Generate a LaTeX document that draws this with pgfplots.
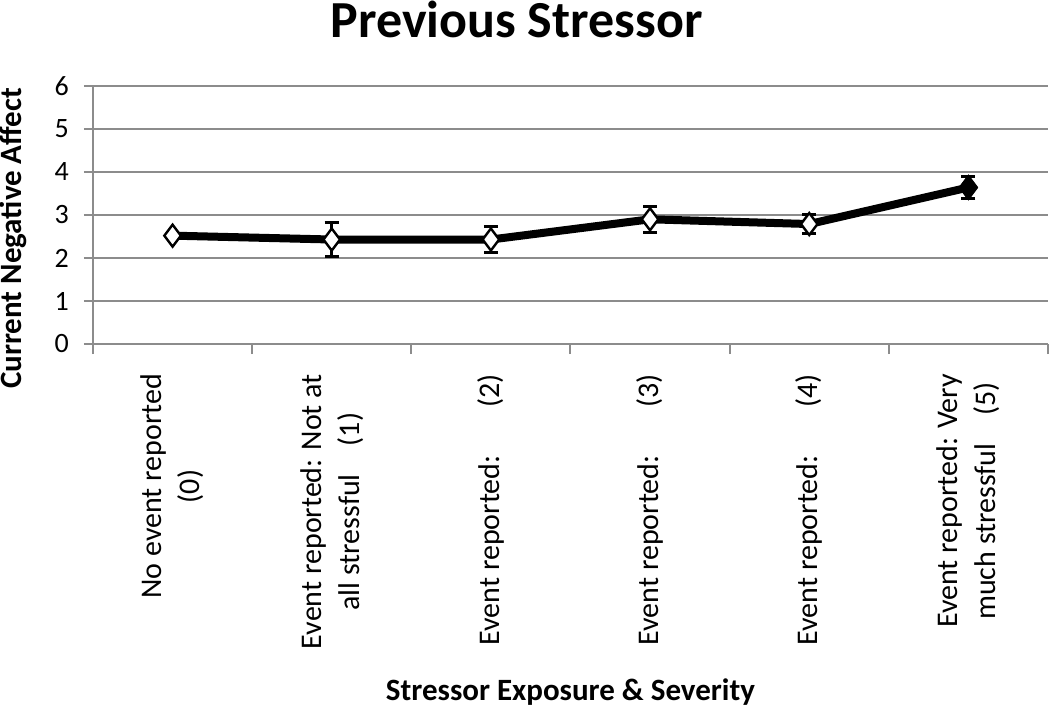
\documentclass[border=0pt]{standalone}
\usepackage{fontspec}
\setmainfont{Carlito}
\usepackage{pgfplots}
\pgfplotsset{compat=1.18}
\usepackage{pgfplotstable}
\pgfplotstableread{
x y err
0 2.52 0
1 2.43 0.39
2 2.43 0.31
3 2.90 0.30
4 2.79 0.22
5 3.64 0.26
}\stressdata
\definecolor{gridgray}{HTML}{8C8C8C}
\begin{document}
\begin{tikzpicture}
\useasboundingbox (-46.5pt,-182pt) rectangle (478.5pt,172pt);
\begin{axis}[
  scale only axis,
  width=477.5pt, height=129pt,
  xmin=-0.5, xmax=5.5, ymin=0, ymax=6,
  ytick={0,1,...,6},
  xtick={0,1,...,5},
  minor xtick={-0.5,0.5,...,5.5},
  major x tick style={draw=none},
  minor x tick style={draw=gridgray, line width=1pt},
  minor tick length=5pt,
  major tick length=4.5pt,
  tick align=outside,
  y tick style={draw=gridgray, line width=1pt},
  axis x line*=bottom, axis y line*=left,
  axis line style={draw=gridgray, line width=1.2pt, -},
  ymajorgrids,
  grid style={draw=gridgray, line width=1.2pt},
  /pgf/number format/assume math mode=true,
  yticklabel style={font=\fontsize{14}{17}\selectfont, xshift=-4pt},
  xticklabels={
    {No event reported\\(0)},
    {Event reported: Not at\\all stressful\hspace{14pt}(1)},
    {Event reported:\hspace{24pt}(2)},
    {Event reported:\hspace{24pt}(3)},
    {Event reported:\hspace{24pt}(4)},
    {Event reported: Very\\much stressful\hspace{14pt}(5)}},
  xticklabel style={rotate=90, anchor=east, align=center,
    font=\fontsize{15}{19}\selectfont},
  xticklabel shift=7pt,
  title={Previous Stressor},
  title style={font=\fontsize{26}{30}\selectfont\bfseries, at={(axis description cs:0.4435,1)}, yshift=18.5pt, anchor=base},
  ylabel={Current Negative Affect},
  ylabel style={font=\fontsize{15.5}{18}\selectfont\bfseries, at={(axis description cs:-0.0835,0.41)}, anchor=center, rotate=0},
  xlabel={Stressor Exposure \& Severity},
  xlabel style={font=\fontsize{15.5}{18}\selectfont\bfseries, at={(axis description cs:0.5,0)}, yshift=-174pt, anchor=center},
  clip=false,
]
\addplot[black, line width=4pt,
  mark=diamond*, mark size=5.5pt,
  mark options={fill=white, draw=black, line width=1.2pt},
  error bars/.cd, y dir=both, y explicit,
  error bar style={black, line width=1.4pt},
  error mark options={black, line width=1.4pt, mark size=3.5pt, rotate=90}]
  table[x=x, y=y, y error=err] {\stressdata};
\addplot[only marks, mark=diamond*, mark size=5.5pt,
  mark options={fill=black, draw=black, line width=1.2pt}]
  coordinates {(5,3.64)};
\end{axis}
\end{tikzpicture}
\end{document}
